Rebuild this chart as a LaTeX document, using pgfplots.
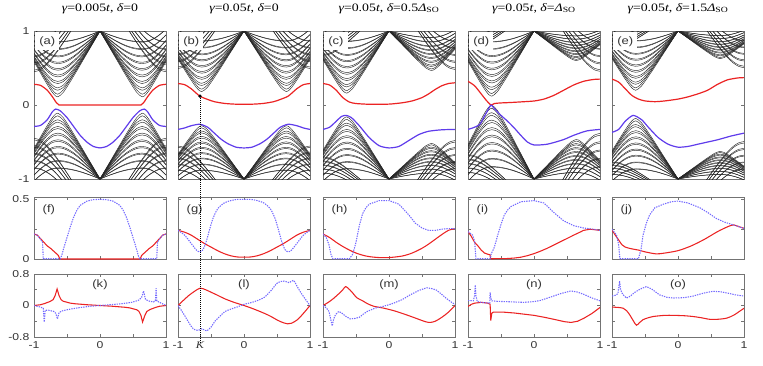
\documentclass[border=0pt]{standalone}
\usepackage{fontspec}
\setmainfont{Liberation Serif}[FakeStretch=1.22]
\setsansfont{Liberation Sans}[FakeStretch=1.22]
\usepackage{pgfplots}
\usepackage{pgfplotstable}
\pgfplotsset{compat=1.18}

\definecolor{ered}{RGB}{235,35,35}
\definecolor{eblue}{RGB}{95,60,235}
\definecolor{dblue}{RGB}{115,105,255}

% bulk subbands, upper-left quarter (valley K), gap template
\pgfplotstableread{
x     b1    b2    b3    b4    b5    b6    b7    b8    b9
-1    0.587 0.610 0.645 0.690 0.744 0.804 0.869 0.946 1.027
-0.92 0.462 0.491 0.534 0.588 0.649 0.717 0.790 0.874 0.961
-0.84 0.338 0.377 0.431 0.496 0.568 0.645 0.724 0.815 0.908
-0.76 0.221 0.277 0.348 0.426 0.508 0.592 0.678 0.774 0.871
-0.70 0.146 0.222 0.305 0.392 0.480 0.568 0.657 0.756 0.855
-0.64 0.110 0.200 0.290 0.380 0.470 0.560 0.650 0.750 0.850
-0.56 0.167 0.235 0.315 0.398 0.484 0.570 0.658 0.755 0.853
-0.48 0.273 0.318 0.379 0.448 0.522 0.601 0.680 0.770 0.862
-0.40 0.389 0.420 0.465 0.519 0.581 0.646 0.715 0.794 0.876
-0.32 0.509 0.532 0.563 0.604 0.652 0.704 0.760 0.826 0.894
-0.24 0.632 0.647 0.669 0.698 0.731 0.771 0.813 0.864 0.917
-0.16 0.754 0.763 0.777 0.795 0.818 0.843 0.871 0.906 0.942
-0.08 0.877 0.881 0.888 0.897 0.907 0.920 0.934 0.952 0.970
0     1     1     1     1     1     1     1     1     1
}\bandtab

% bands crossing near the zone edge
\pgfplotstableread{
x     c1    c2    c3    c4    c5
-1    0.45  0.55  0.65  0.75  0.85
-0.92 0.468 0.565 0.663 0.761 0.86
-0.84 0.518 0.607 0.699 0.792 0.888
-0.76 0.591 0.670 0.755 0.842 0.933
-0.70 0.658 0.730 0.808 0.889 0.975
-0.64 0.731 0.797 0.869 0.946 1.027
-0.56 0.836 0.894 0.959 1.03  1.1
-0.48 0.946 0.997 1.056 1.12  1.19
-0.40 1.06  1.1   1.16  1.22  1.29
}\crosstab

\tikzset{lab/.style={font=\sffamily\fontsize{8}{9}\selectfont, text=black!80}}

\pgfplotsset{
  panel/.style={scale only axis, width=99pt, xmin=-1, xmax=1, anchor=north west,
    axis line style={black!55, line width=0.6pt},
    tick style={black!55, line width=0.4pt}, major tick length=2pt, tick align=inside,
    ticklabel style={font=\sffamily\fontsize{7.5}{8}\selectfont, text=black!80},
    /pgf/number format/assume math mode=true,
    title style={font=\rmfamily\fontsize{8.5}{10}\selectfont, at={(0.5,1)}, anchor=base, yshift=9pt}},
  toprow/.style={panel, height=111pt, ymin=-1, ymax=1, xtick=\empty,
    ytick={-1,0,1}, yticklabels={}},
  midrow/.style={panel, height=46.5pt, ymin=0, ymax=0.52, xtick={-0.5,0,0.5},
    xticklabels={}, ytick={0,0.25,0.5}, yticklabels={}},
  botrow/.style={panel, height=47.25pt, ymin=-0.8, ymax=0.8,
    xtick={-1,-0.5,0,0.5,1}, xticklabels={-1,,0,,1},
    ytick={-0.8,-0.4,0,0.4,0.8}, yticklabels={}},
  bulkline/.style={black!85, line width=0.33pt, smooth},
  edgeR/.style={ered, line width=0.9pt, smooth, tension=0.4},
  edgeB/.style={eblue, line width=0.9pt, smooth, tension=0.4},
  wfR/.style={ered, line width=0.8pt},
  wfB/.style={dblue, line width=0.8pt, dash pattern=on 1pt off 0.8pt},
}

% one set of bands; #1 K upper, #2 K lower, #3 K' upper, #4 K' lower:
% scale of (1-E) about E=+-1
\newcommand\bandset[4]{%
  \pgfplotsinvokeforeach{b1,b2,b3,b4,b5,b6,b7,b8,b9}{%
    \addplot[bulkline] table[x=x, y expr={1-(1-\thisrow{##1})*#1}] {\bandtab};
    \addplot[bulkline] table[x=x, y expr={-1+(1-\thisrow{##1})*#2}] {\bandtab};
    \addplot[bulkline] table[x expr={-\thisrow{x}}, y expr={1-(1-\thisrow{##1})*#3}] {\bandtab};
    \addplot[bulkline] table[x expr={-\thisrow{x}}, y expr={-1+(1-\thisrow{##1})*#4}] {\bandtab};
  }
  \pgfplotsinvokeforeach{c1,c2,c3,c4,c5}{%
    \addplot[bulkline] table[x=x, y expr={1-(1-\thisrow{##1})*#3}] {\crosstab};
    \addplot[bulkline] table[x=x, y expr={-1+(1-\thisrow{##1})*#4}] {\crosstab};
    \addplot[bulkline] table[x expr={-\thisrow{x}}, y expr={1-(1-\thisrow{##1})*#1}] {\crosstab};
    \addplot[bulkline] table[x expr={-\thisrow{x}}, y expr={-1+(1-\thisrow{##1})*#2}] {\crosstab};
  }
}
% spin-split pairs
\newcommand\bulkbands[4]{%
  \bandset{#1}{#2}{#3}{#4}%
  \bandset{#1*0.96}{#2*0.96}{#3*0.96}{#4*0.96}%
}

\newcommand\gm{{\itshape γ}}
\newcommand\dl{{\itshape δ}}
\newcommand\tv{{\itshape t}}
\newcommand\dso{{\itshape Δ}\textsubscript{SO}}

\begin{document}
\begin{tikzpicture}
\useasboundingbox (0,0) rectangle (572.25pt,-273.75pt);

% ---------------- top row: spectra ----------------
\begin{axis}[toprow, at={(25.5pt,-23.25pt)}, yticklabels={-1,0,1},
  title={\gm=0.005\tv, \dl=0}]
\bulkbands{1}{1}{1}{1}
\addplot[edgeR] coordinates {(-1,0.28)(-0.9,0.265)(-0.8,0.2)(-0.72,0.11)(-0.66,0.03)(-0.62,0)(-0.5,0)(0,0)(0.5,0)(0.62,0)(0.66,0.03)(0.72,0.11)(0.8,0.2)(0.9,0.265)(1,0.28)};
\addplot[edgeB] coordinates {(-1,-0.29)(-0.9,-0.275)(-0.8,-0.2)(-0.72,-0.09)(-0.67,-0.055)(-0.6,-0.08)(-0.5,-0.17)(-0.4,-0.29)(-0.3,-0.41)(-0.2,-0.5)(-0.1,-0.56)(0,-0.58)(0.1,-0.56)(0.2,-0.5)(0.3,-0.41)(0.4,-0.29)(0.5,-0.17)(0.6,-0.08)(0.67,-0.055)(0.72,-0.09)(0.8,-0.2)(0.9,-0.275)(1,-0.29)};
\node[lab, fill=white, anchor=north west, inner sep=3pt] at (axis description cs:0.008,0.992) {(a)};
\end{axis}

\begin{axis}[toprow, at={(133.5pt,-23.25pt)}, title={\gm=0.05\tv, \dl=0}]
\bulkbands{0.92}{0.81}{0.92}{0.81}
\addplot[edgeR] coordinates {(-1,0.29)(-0.9,0.275)(-0.8,0.22)(-0.67,0.12)(-0.55,0.075)(-0.45,0.045)(-0.3,0.022)(-0.15,0.012)(0,0.01)(0.15,0.012)(0.3,0.022)(0.45,0.045)(0.55,0.075)(0.67,0.12)(0.8,0.22)(0.9,0.275)(1,0.29)};
\addplot[edgeB] coordinates {(-1,-0.33)(-0.9,-0.31)(-0.8,-0.28)(-0.67,-0.26)(-0.55,-0.3)(-0.45,-0.38)(-0.35,-0.46)(-0.25,-0.52)(-0.12,-0.57)(0,-0.58)(0.12,-0.57)(0.25,-0.52)(0.35,-0.46)(0.45,-0.38)(0.55,-0.3)(0.67,-0.26)(0.8,-0.28)(0.9,-0.31)(1,-0.33)};
\addplot[only marks, mark=*, mark size=1.1pt, black] coordinates {(-0.6667,0.12)};
\coordinate (kdot) at (axis cs:-0.6667,0.12);
\node[lab, fill=white, anchor=north west, inner sep=3pt] at (axis description cs:0.008,0.992) {(b)};
\end{axis}

\begin{axis}[toprow, at={(242.25pt,-23.25pt)}, title={\gm=0.05\tv, \dl=0.5\dso}]
\bulkbands{0.944}{0.944}{0.6}{0.54}
\addplot[edgeR] coordinates {(-1,0.29)(-0.9,0.27)(-0.8,0.2)(-0.7,0.1)(-0.6,0.04)(-0.5,0.02)(-0.3,0.01)(0,0.012)(0.2,0.03)(0.35,0.055)(0.5,0.1)(0.6,0.15)(0.7,0.21)(0.8,0.26)(0.9,0.29)(1,0.3)};
\addplot[edgeB] coordinates {(-1,-0.33)(-0.9,-0.3)(-0.8,-0.22)(-0.72,-0.155)(-0.65,-0.14)(-0.57,-0.17)(-0.45,-0.28)(-0.3,-0.44)(-0.15,-0.55)(0,-0.58)(0.15,-0.56)(0.3,-0.48)(0.45,-0.4)(0.6,-0.355)(0.8,-0.335)(1,-0.33)};
\node[lab, fill=white, anchor=north west, inner sep=3pt] at (axis description cs:0.008,0.992) {(c)};
\end{axis}

\begin{axis}[toprow, at={(351pt,-23.25pt)}, title={\gm=0.05\tv, \dl=\dso}]
\bulkbands{0.99}{1.12}{0.45}{0.6}
\addplot[edgeR] coordinates {(-1,0.32)(-0.9,0.26)(-0.8,0.15)(-0.72,0.06)(-0.65,0)(-0.6,0.02)(-0.5,0.028)(-0.35,0.034)(-0.2,0.042)(0,0.054)(0.15,0.08)(0.3,0.13)(0.45,0.2)(0.6,0.27)(0.75,0.32)(0.9,0.345)(1,0.35)};
\addplot[edgeB] coordinates {(-1,-0.33)(-0.9,-0.3)(-0.82,-0.26)(-0.75,-0.15)(-0.7,-0.07)(-0.65,0)(-0.6,-0.05)(-0.5,-0.14)(-0.4,-0.22)(-0.3,-0.31)(-0.2,-0.41)(-0.1,-0.5)(0,-0.54)(0.2,-0.53)(0.44,-0.47)(0.6,-0.41)(0.8,-0.35)(1,-0.33)};
\node[lab, fill=white, anchor=north west, inner sep=3pt] at (axis description cs:0.008,0.992) {(d)};
\end{axis}

\begin{axis}[toprow, at={(459pt,-23.25pt)}, title={\gm=0.05\tv, \dl=1.5\dso}]
\bulkbands{0.9}{0.92}{0.42}{0.42}
\addplot[edgeR] coordinates {(-1,0.35)(-0.9,0.31)(-0.8,0.22)(-0.7,0.13)(-0.6,0.08)(-0.5,0.055)(-0.35,0.045)(-0.2,0.055)(0,0.08)(0.15,0.11)(0.3,0.15)(0.45,0.2)(0.6,0.28)(0.75,0.34)(0.9,0.365)(1,0.37)};
\addplot[edgeB] coordinates {(-1,-0.37)(-0.9,-0.33)(-0.8,-0.22)(-0.68,-0.14)(-0.55,-0.2)(-0.45,-0.3)(-0.3,-0.44)(-0.15,-0.53)(0,-0.57)(0.15,-0.56)(0.3,-0.53)(0.45,-0.5)(0.6,-0.47)(0.8,-0.42)(1,-0.38)};
\node[lab, fill=white, anchor=north west, inner sep=3pt] at (axis description cs:0.008,0.992) {(e)};
\end{axis}

% ---------------- middle row ----------------
\begin{axis}[midrow, at={(25.5pt,-147.75pt)}, yticklabels={0,,0.5}]
\addplot[wfR] coordinates {(-1,0.21)(-0.95,0.2)(-0.9,0.17)(-0.85,0.14)(-0.8,0.11)(-0.75,0.09)(-0.7,0.065)(-0.66,0.045)(-0.63,0.03)(-0.61,0)(0.61,0)(0.63,0.03)(0.66,0.045)(0.7,0.065)(0.75,0.09)(0.8,0.11)(0.85,0.14)(0.9,0.17)(0.95,0.2)(1,0.21)};
\addplot[wfB] coordinates {(-1,0.21)(-0.95,0.2)(-0.9,0.165)(-0.87,0.14)(-0.86,0.002)(-0.6,0.002)(-0.58,0.03)(-0.55,0.09)(-0.5,0.18)(-0.45,0.27)(-0.4,0.35)(-0.35,0.41)(-0.3,0.45)(-0.2,0.485)(-0.1,0.498)(0,0.5)(0.1,0.498)(0.2,0.485)(0.3,0.45)(0.35,0.41)(0.4,0.35)(0.45,0.27)(0.5,0.18)(0.55,0.09)(0.58,0.03)(0.6,0.002)(0.86,0.002)(0.87,0.14)(0.9,0.165)(0.95,0.2)(1,0.21)};
\node[lab, anchor=north west] at (axis description cs:0.03,0.95) {(f)};
\end{axis}

\begin{axis}[midrow, at={(133.5pt,-147.75pt)}]
\addplot[wfR, smooth] coordinates {(-1,0.24)(-0.9,0.225)(-0.8,0.2)(-0.7,0.165)(-0.6,0.13)(-0.5,0.1)(-0.4,0.07)(-0.3,0.045)(-0.2,0.027)(-0.1,0.017)(0,0.015)(0.1,0.017)(0.2,0.027)(0.3,0.045)(0.4,0.07)(0.5,0.1)(0.6,0.13)(0.7,0.165)(0.8,0.2)(0.9,0.225)(1,0.24)};
\addplot[wfB, smooth] coordinates {(-1,0.24)(-0.9,0.2)(-0.8,0.13)(-0.72,0.075)(-0.67,0.06)(-0.62,0.08)(-0.57,0.15)(-0.52,0.25)(-0.47,0.34)(-0.4,0.42)(-0.3,0.47)(-0.2,0.49)(-0.1,0.5)(0,0.5)(0.1,0.5)(0.2,0.49)(0.3,0.47)(0.4,0.42)(0.47,0.34)(0.52,0.25)(0.57,0.15)(0.62,0.08)(0.67,0.06)(0.72,0.075)(0.8,0.13)(0.9,0.2)(1,0.24)};
\node[lab, anchor=north west] at (axis description cs:0.03,0.95) {(g)};
\end{axis}

\begin{axis}[midrow, at={(242.25pt,-147.75pt)}]
\addplot[wfR, smooth] coordinates {(-1,0.21)(-0.9,0.18)(-0.8,0.14)(-0.7,0.105)(-0.6,0.075)(-0.5,0.05)(-0.4,0.032)(-0.3,0.02)(-0.15,0.012)(0,0.012)(0.2,0.025)(0.35,0.05)(0.5,0.09)(0.6,0.125)(0.7,0.165)(0.8,0.205)(0.9,0.24)(1,0.255)};
\addplot[wfB] coordinates {(-1,0.21)(-0.95,0.18)(-0.91,0.12)(-0.88,0.04)(-0.85,0.002)(-0.6,0.002)(-0.55,0.04)(-0.5,0.14)(-0.45,0.28)(-0.4,0.38)(-0.35,0.43)(-0.3,0.46)(-0.15,0.49)(0,0.49)(0.15,0.46)(0.3,0.37)(0.4,0.3)(0.5,0.26)(0.6,0.24)(0.7,0.24)(0.8,0.25)(0.9,0.255)(1,0.255)};
\node[lab, anchor=north west] at (axis description cs:0.03,0.95) {(h)};
\end{axis}

\begin{axis}[midrow, at={(351pt,-147.75pt)}]
\addplot[wfR] coordinates {(-1,0.23)(-0.95,0.19)(-0.9,0.14)(-0.85,0.11)(-0.8,0.075)(-0.75,0.05)(-0.7,0.04)(-0.665,0.035)(-0.66,0.002)(-0.4,0.004)(-0.3,0.008)(-0.2,0.015)(-0.1,0.028)(0,0.045)(0.1,0.066)(0.2,0.09)(0.3,0.117)(0.4,0.145)(0.5,0.172)(0.6,0.2)(0.7,0.226)(0.75,0.24)(0.85,0.25)(0.93,0.245)(1,0.24)};
\addplot[wfB] coordinates {(-1,0.23)(-0.93,0.2)(-0.9,0.15)(-0.88,0.002)(-0.66,0.002)(-0.65,0.04)(-0.6,0.1)(-0.55,0.2)(-0.5,0.29)(-0.45,0.37)(-0.4,0.41)(-0.35,0.44)(-0.2,0.48)(0,0.49)(0.15,0.47)(0.3,0.39)(0.45,0.32)(0.6,0.28)(0.75,0.26)(0.9,0.25)(1,0.24)};
\node[lab, anchor=north west] at (axis description cs:0.03,0.95) {(i)};
\end{axis}

\begin{axis}[midrow, at={(459pt,-147.75pt)}]
\addplot[wfR, smooth] coordinates {(-1,0.243)(-0.95,0.2)(-0.9,0.16)(-0.85,0.12)(-0.8,0.1)(-0.7,0.085)(-0.6,0.075)(-0.5,0.06)(-0.33,0.043)(-0.2,0.05)(0,0.07)(0.2,0.11)(0.4,0.165)(0.6,0.23)(0.75,0.27)(0.84,0.286)(0.93,0.27)(1,0.257)};
\addplot[wfB] coordinates {(-1,0.25)(-0.93,0.2)(-0.9,0.12)(-0.88,0.002)(-0.6,0.002)(-0.56,0.08)(-0.53,0.2)(-0.48,0.3)(-0.43,0.37)(-0.35,0.43)(-0.22,0.46)(-0.1,0.48)(0,0.486)(0.15,0.47)(0.33,0.43)(0.45,0.39)(0.58,0.34)(0.7,0.31)(0.84,0.286)(1,0.257)};
\node[lab, anchor=north west] at (axis description cs:0.03,0.95) {(j)};
\end{axis}

% ---------------- bottom row ----------------
\begin{axis}[botrow, at={(25.5pt,-205.5pt)}, yticklabels={-0.8,,0,,0.8}]
\addplot[wfR] coordinates {(-1,0)(-0.9,0.02)(-0.84,0.05)(-0.76,0.1)(-0.71,0.15)(-0.68,0.25)(-0.65,0.42)(-0.62,0.25)(-0.59,0.15)(-0.56,0.11)(-0.45,0.06)(-0.38,0.045)(-0.2,0.02)(0,0)(0.2,-0.02)(0.38,-0.045)(0.45,-0.06)(0.56,-0.11)(0.59,-0.15)(0.62,-0.25)(0.645,-0.42)(0.68,-0.25)(0.71,-0.15)(0.76,-0.1)(0.84,-0.05)(0.9,-0.02)(1,0)};
\addplot[wfB] coordinates {(-1,0)(-0.9,-0.04)(-0.86,-0.07)(-0.845,-0.42)(-0.83,-0.12)(-0.78,-0.12)(-0.7,-0.15)(-0.67,-0.2)(-0.645,-0.34)(-0.62,-0.18)(-0.58,-0.14)(-0.48,-0.1)(-0.3,-0.05)(-0.15,-0.02)(0,0)(0.15,0.02)(0.3,0.04)(0.48,0.08)(0.58,0.13)(0.63,0.2)(0.66,0.37)(0.69,0.15)(0.75,0.11)(0.81,0.09)(0.84,0.12)(0.85,0.44)(0.86,0.12)(0.89,0.09)(0.95,0.04)(1,0)};
\node[lab, anchor=north] at (axis description cs:0.5,0.99) {(k)};
\end{axis}

\begin{axis}[botrow, at={(133.5pt,-205.5pt)}, xtick={-1,-0.6667,-0.5,0,0.5,1},
  xticklabels={-1,{\rmfamily\itshape K},,0,,1}]
\addplot[wfR, smooth] coordinates {(-1,0)(-0.9,0.16)(-0.84,0.25)(-0.75,0.36)(-0.665,0.44)(-0.58,0.4)(-0.49,0.33)(-0.4,0.26)(-0.29,0.17)(-0.15,0.08)(0,0)(0.15,-0.09)(0.31,-0.2)(0.41,-0.28)(0.51,-0.375)(0.6,-0.44)(0.66,-0.465)(0.72,-0.45)(0.81,-0.36)(0.9,-0.2)(1,0)};
\addplot[wfB, smooth] coordinates {(-1,0)(-0.95,-0.12)(-0.89,-0.28)(-0.83,-0.45)(-0.765,-0.6)(-0.69,-0.63)(-0.64,-0.59)(-0.6,-0.62)(-0.565,-0.645)(-0.5,-0.55)(-0.44,-0.4)(-0.35,-0.25)(-0.29,-0.155)(-0.18,-0.08)(-0.09,-0.03)(0,0.03)(0.1,0.07)(0.21,0.13)(0.3,0.2)(0.36,0.29)(0.43,0.42)(0.51,0.58)(0.61,0.62)(0.685,0.58)(0.75,0.64)(0.8,0.5)(0.86,0.33)(0.93,0.16)(1,0)};
\coordinate (kbot) at (axis cs:-0.6667,-0.8);
\node[lab, anchor=north] at (axis description cs:0.5,0.99) {(l)};
\end{axis}

\begin{axis}[botrow, at={(242.25pt,-205.5pt)}]
\addplot[wfR, smooth] coordinates {(-1,0)(-0.92,0.08)(-0.84,0.18)(-0.76,0.3)(-0.7,0.4)(-0.66,0.48)(-0.62,0.44)(-0.56,0.34)(-0.49,0.2)(-0.4,0.12)(-0.33,0.05)(-0.23,-0.02)(-0.1,-0.06)(0.07,-0.13)(0.2,-0.2)(0.32,-0.27)(0.45,-0.35)(0.55,-0.41)(0.62,-0.43)(0.7,-0.4)(0.8,-0.3)(0.9,-0.17)(1,0)};
\addplot[wfB] coordinates {(-1,0)(-0.95,-0.06)(-0.91,-0.15)(-0.87,-0.45)(-0.86,-0.52)(-0.84,-0.35)(-0.81,-0.23)(-0.76,-0.15)(-0.71,-0.2)(-0.65,-0.28)(-0.59,-0.34)(-0.52,-0.33)(-0.45,-0.3)(-0.39,-0.22)(-0.33,-0.15)(-0.2,-0.06)(-0.13,-0.04)(0,0.02)(0.07,0.06)(0.2,0.15)(0.32,0.27)(0.45,0.38)(0.57,0.45)(0.65,0.43)(0.72,0.39)(0.8,0.28)(0.87,0.18)(0.95,0.08)(1,0.03)};
\node[lab, anchor=north] at (axis description cs:0.5,0.99) {(m)};
\end{axis}

\begin{axis}[botrow, at={(351pt,-205.5pt)}]
\addplot[wfR] coordinates {(-1,-0.025)(-0.95,0.03)(-0.9,0.06)(-0.8,0.08)(-0.7,0.06)(-0.665,0.03)(-0.655,-0.38)(-0.64,-0.2)(-0.62,-0.17)(-0.45,-0.17)(-0.3,-0.19)(-0.15,-0.22)(0,-0.25)(0.16,-0.3)(0.3,-0.35)(0.46,-0.41)(0.56,-0.43)(0.66,-0.4)(0.76,-0.32)(0.88,-0.2)(1,-0.05)};
\addplot[wfB] coordinates {(-1,0.125)(-0.92,0.12)(-0.9,0.25)(-0.89,0.52)(-0.88,0.25)(-0.86,0.1)(-0.8,0.08)(-0.7,0.065)(-0.67,0.06)(-0.665,0.33)(-0.655,0.2)(-0.64,0.12)(-0.55,0.105)(-0.45,0.1)(-0.3,0.09)(-0.15,0.08)(0,0.1)(0.1,0.13)(0.26,0.22)(0.4,0.3)(0.56,0.37)(0.66,0.34)(0.76,0.28)(0.88,0.19)(1,0.12)};
\node[lab, anchor=north] at (axis description cs:0.5,0.99) {(n)};
\end{axis}

\begin{axis}[botrow, at={(459pt,-205.5pt)}]
\addplot[wfR, smooth] coordinates {(-1,-0.04)(-0.9,-0.05)(-0.83,-0.07)(-0.78,-0.13)(-0.73,-0.24)(-0.68,-0.38)(-0.63,-0.5)(-0.58,-0.43)(-0.53,-0.36)(-0.45,-0.31)(-0.38,-0.28)(-0.2,-0.25)(-0.07,-0.25)(0.1,-0.26)(0.23,-0.28)(0.35,-0.31)(0.48,-0.35)(0.6,-0.35)(0.74,-0.32)(0.85,-0.24)(0.93,-0.15)(1,-0.07)};
\addplot[wfB] coordinates {(-1,0.24)(-0.95,0.26)(-0.91,0.3)(-0.885,0.62)(-0.87,0.4)(-0.84,0.29)(-0.78,0.19)(-0.72,0.24)(-0.66,0.33)(-0.57,0.42)(-0.48,0.48)(-0.4,0.42)(-0.28,0.27)(-0.17,0.21)(-0.07,0.19)(0.1,0.2)(0.23,0.24)(0.4,0.32)(0.53,0.36)(0.64,0.35)(0.74,0.32)(0.87,0.27)(1,0.24)};
\node[lab, anchor=north] at (axis description cs:0.5,0.99) {(o)};
\end{axis}

\draw[black, densely dotted, line width=0.5pt] (kdot) -- ([yshift=-5pt]kbot);
\end{tikzpicture}
\end{document}
